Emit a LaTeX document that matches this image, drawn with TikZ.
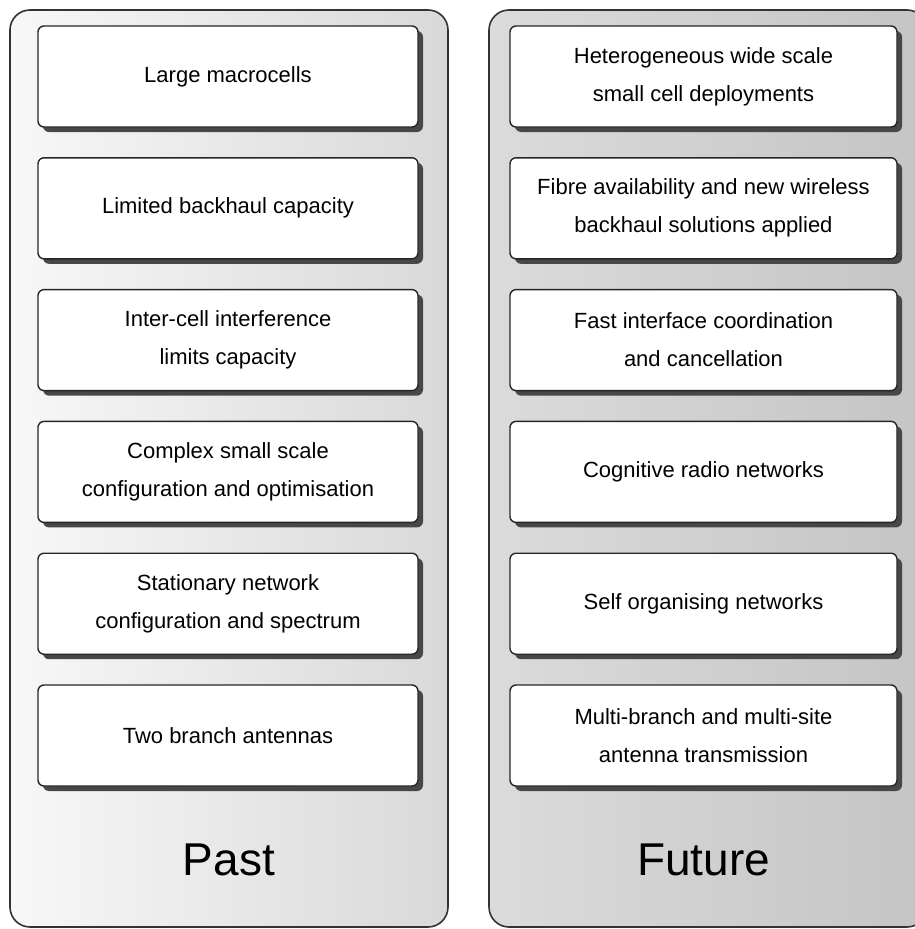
\documentclass[tikz,border=0pt]{standalone}
\usepackage{fontspec}
\setmainfont{Liberation Sans}
\usetikzlibrary{shadows}

\begin{document}
\begin{tikzpicture}[line cap=round,line join=round,x=1pt,y=-1pt,
    panel/.style={draw=black!80, line width=1.6pt, rounded corners=20pt,
        minimum width=438pt, minimum height=917pt, inner sep=0pt},
    item/.style={draw=black!85, line width=1.4pt, fill=white, rounded corners=6pt,
        minimum height=101pt, align=center, inner sep=0pt,
        font=\fontsize{22}{38}\selectfont,
        drop shadow={shadow xshift=5pt, shadow yshift=-5pt, fill=black!72, opacity=1}},
    title/.style={anchor=base, font=\fontsize{46}{50}\selectfont}]

    \clip (0,0) rectangle (915,929);

    % Panels
    \node[panel, left color=black!3, right color=black!15] (past) at (229,468.5) {};
    \node[panel, left color=black!14, right color=black!23] (future) at (708,468.5) {};

    % Past column
    \node[item, minimum width=380pt] (p1) at (228,76.5) {Large macrocells};
    \node[item, minimum width=380pt] (p2) at (228,208.3) {Limited backhaul capacity};
    \node[item, minimum width=380pt] (p3) at (228,340.1) {Inter-cell interference\\limits capacity};
    \node[item, minimum width=380pt] (p4) at (228,471.9) {Complex small scale\\configuration and optimisation};
    \node[item, minimum width=380pt] (p5) at (228,603.7) {Stationary network\\configuration and spectrum};
    \node[item, minimum width=380pt] (p6) at (228,735.5) {Two branch antennas};

    % Future column
    \node[item, minimum width=387pt] (f1) at (703.5,76.5) {Heterogeneous wide scale\\small cell deployments};
    \node[item, minimum width=387pt] (f2) at (703.5,208.3) {Fibre availability and new wireless\\backhaul solutions applied};
    \node[item, minimum width=387pt] (f3) at (703.5,340.1) {Fast interface coordination\\and cancellation};
    \node[item, minimum width=387pt] (f4) at (703.5,471.9) {Cognitive radio networks};
    \node[item, minimum width=387pt] (f5) at (703.5,603.7) {Self organising networks};
    \node[item, minimum width=387pt] (f6) at (703.5,735.5) {Multi-branch and multi-site\\antenna transmission};

    % Labels
    \node[title] (pastlabel) at (229,875) {Past};
    \node[title] (futurelabel) at (703.5,875) {Future};
\end{tikzpicture}
\end{document}
